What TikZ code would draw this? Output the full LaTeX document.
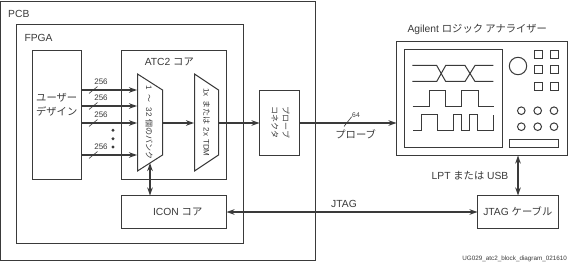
\documentclass[tikz,border=0pt]{standalone}
\usepackage{fontspec}
\usetikzlibrary{arrows.meta,calc}
\setmainfont{Liberation Sans}
\newfontfamily\cjk{Noto Sans CJK JP}
\newcommand{\jp}[1]{{\cjk #1}}
\definecolor{ink}{HTML}{3A3A3A}
\tikzset{
  box/.style={draw=ink,line width=1pt,inner sep=0pt,outer sep=0pt,rectangle},
  part/.style={draw=ink,line width=1pt},
  wave/.style={draw=ink,line width=1pt,line join=miter},
  bus/.style={draw=ink,line width=2pt,-{Stealth[length=8pt,width=5.5pt]}},
  duplex/.style={draw=ink,line width=2pt,{Stealth[length=8pt,width=5.5pt]}-{Stealth[length=8pt,width=5.5pt]}},
  tick/.style={draw=ink,line width=0.6pt},
  lab/.style={text=ink,font=\fontsize{10.3}{12}\selectfont,inner sep=0pt},
  small/.style={text=ink,font=\fontsize{8}{9}\selectfont,inner sep=0pt},
  vert/.style={text=ink,font=\fontsize{8}{11}\selectfont,inner sep=0pt,rotate=-90,align=center},
}
\begin{document}
\begin{tikzpicture}[x=1pt,y=-1pt]
\useasboundingbox (0,0) rectangle (568,262);
\fill[white] (0,0) rectangle (568,262);

% board and device outlines
\node[box,minimum width=315pt,minimum height=259pt] (pcb) at (158,131) {};
\node[box,minimum width=227pt,minimum height=219pt] (fpga) at (130,134) {};
\node[lab,anchor=west] (pcbl) at (8,13.7) {PCB};
\node[lab,anchor=west] (fpgal) at (24.3,37.7) {FPGA};

% blocks
\node[box,minimum width=49pt,minimum height=129pt] (user) at (57,115) {};
\node[lab] (userA) at (56.7,98) {\jp{ユーザー}};
\node[lab] (userB) at (56.7,111) {\jp{デザイン}};
\node[box,minimum width=105pt,minimum height=129pt] (atc) at (174,115) {};
\node[lab] (atcl) at (169.3,62) {ATC2 \jp{コア}};
\node[box,minimum width=105pt,minimum height=33pt,fill=white] (icon) at (174,212) {};
\node[lab] (iconl) at (177.7,211.7) {ICON \jp{コア}};
\node[box,minimum width=40pt,minimum height=65pt] (conn) at (279.5,123) {};
\node[vert] (connl) at (280.5,122.5) {\jp{プローブ}\\\jp{コネクタ}};
\node[box,minimum width=81pt,minimum height=33pt] (cable) at (518,212) {};
\node[lab] (cablel) at (517.8,211.7) {JTAG \jp{ケーブル}};

% multiplexers
\draw[part] (137.5,74) -- (162.5,90) -- (162.5,155) -- (137.5,171) -- cycle;
\draw[part] (194.5,74) -- (218.5,90) -- (218.5,155) -- (194.5,171) -- cycle;
\coordinate (muxAin1) at (137,90);
\coordinate (muxAin2) at (137,106);
\coordinate (muxAin3) at (137,123);
\coordinate (muxAin4) at (137,155);
\coordinate (muxAout) at (162,123);
\coordinate (muxAbot) at (150,163);
\coordinate (muxBin) at (194,123);
\coordinate (muxBout) at (219,123);
\node[vert] (muxAl) at (149.2,122.5) {1\hspace{5pt}\jp{～}\hspace{5pt}32\hspace{3pt}\jp{個のバンク}};
\node[vert] (muxBl) at (206.5,122.5) {1x\hspace{3.5pt}\jp{または}\hspace{3.5pt}2x\hspace{3pt}TDM};

% logic analyzer
\node[box,minimum width=171pt,minimum height=114pt] (ana) at (482,98.5) {};
\node[box,minimum width=98pt,minimum height=98pt] (screen) at (453.5,98.5) {};
\node[lab] (anal) at (477.3,29.7) {Agilent \jp{ロジック アナライザー}};
\node[box,circle,minimum size=17.4pt] (knob) at (518,66) {};
\foreach \x/\i in {538.5/a,554.5/b}
  \foreach \y/\j in {54.5/a,69.5/b,86.5/c}
    \node[box,minimum size=8pt] (key\i\j) at (\x,\y) {};
\foreach \x/\i in {521.3/a,537.7/b,554/c}
  \foreach \y/\j in {110.7/a,126.7/b}
    \node[box,circle,minimum size=7.6pt] (dot\i\j) at (\x,\y) {};
\node[box,minimum width=49pt,minimum height=8pt] (slot) at (534,143.5) {};

% traces on the screen
\draw[wave] (412.3,65.5) -- (436.7,65.5) -- (445.7,81.5) -- (465,81.5) -- (475,65.5) -- (493.3,65.5);
\draw[wave] (412.3,81.5) -- (436.7,81.5) -- (445.7,65.5) -- (465,65.5) -- (475,81.5) -- (493.3,81.5);
\draw[wave] (412.5,106.5) -- (429.5,106.5) -- (429.5,90.5) -- (445.5,90.5) -- (445.5,106.5) -- (461.5,106.5)
  -- (461.5,90.5) -- (478.5,90.5) -- (478.5,106.5) -- (494,106.5);
\draw[wave] (413.3,130.5) -- (421.5,130.5) -- (421.5,114.5) -- (437.5,114.5) -- (437.5,130.5) -- (453.5,130.5)
  -- (453.5,114.5) -- (461.5,114.5) -- (461.5,130.5) -- (469.5,130.5) -- (469.5,114.5) -- (477.5,114.5)
  -- (477.5,130.5) -- (493.5,130.5) -- (493.5,114.5);

% input buses
\draw[bus] (user.east |- muxAin1) -- (muxAin1);
\draw[bus] (user.east |- muxAin2) -- (muxAin2);
\draw[bus] (user.east |- muxAin3) -- (muxAin3);
\draw[bus] (user.east |- muxAin4) -- (muxAin4);
\foreach \y/\n in {90/a,106/b,123/c,155/d}{
  \draw[tick] (89,\y+3.5) -- (97.5,\y-3.5);
  \node[small] (w\n) at (101,\y-8) {256};
}
\foreach \y/\n in {130.3/a,138.7/b,147/c}
  \fill[ink] (113,\y) circle (1.6) coordinate (more\n);

% links between blocks
\draw[bus] (muxAout) -- (muxBin);
\draw[bus] (muxBout) -- (conn.west |- muxBout);
\draw[bus] (conn.east |- muxBout) -- (ana.west |- muxBout);
\draw[duplex] (muxAbot) -- (icon.north -| muxAbot);
\draw[duplex] (ana.south -| cable.north) -- (cable.north);
\draw[duplex] (icon.east) -- (cable.west);

% link labels
\draw[tick] (344,126.5) -- (351.7,116.7);
\node[small,font=\fontsize{6.8}{8}\selectfont] (w64) at (356,114.7) {64};
\node[lab] (probel) at (355.7,134.3) {\jp{プローブ}};
\node[lab] (jtagl) at (344,204.3) {JTAG};
\node[lab] (lptl) at (470,176) {LPT \jp{または} USB};
\node[text=ink,font=\fontsize{6.3}{7}\selectfont,inner sep=0pt,anchor=east] (ref) at (567,258.5) {UG029\_atc2\_block\_diagram\_021610};
\end{tikzpicture}
\end{document}
